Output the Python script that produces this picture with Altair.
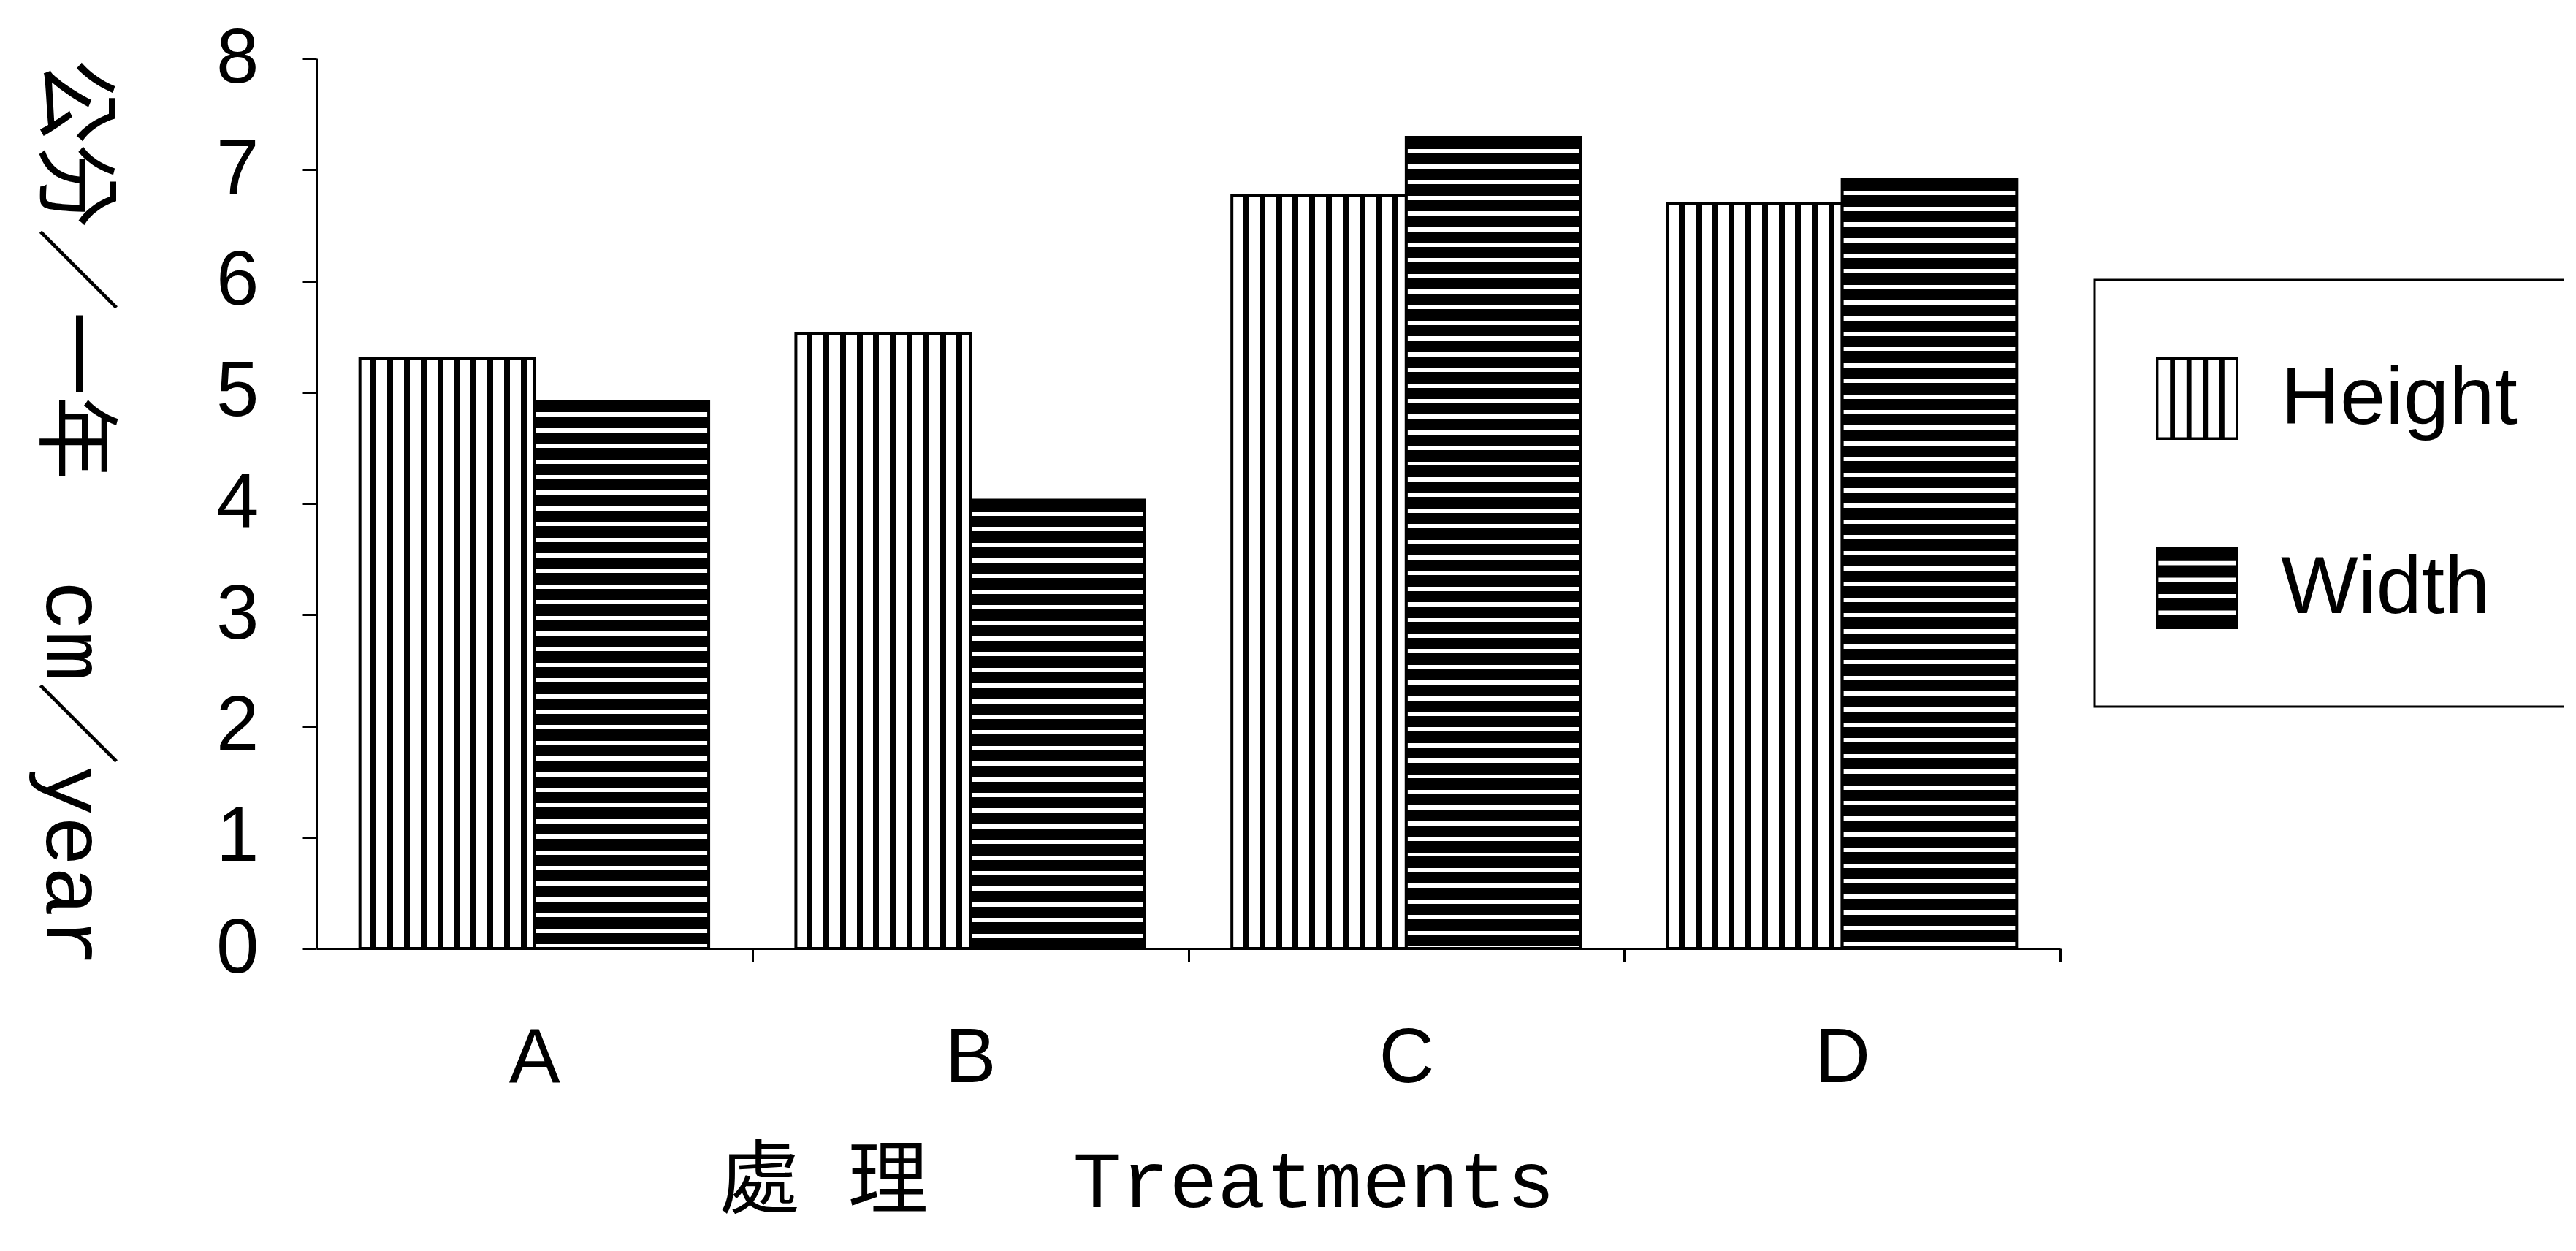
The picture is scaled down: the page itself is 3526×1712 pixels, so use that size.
import altair as alt
import pandas as pd

# ---- data ----
treatments = ["A", "B", "C", "D"]
series = ["Height", "Width"]
height_vals = [5.30, 5.53, 6.77, 6.70]
width_vals = [4.92, 4.03, 7.29, 6.91]
y_ticks = [0, 1, 2, 3, 4, 5, 6, 7, 8]

rows = []
for t, h, w in zip(treatments, height_vals, width_vals):
    rows.append({"Treatment": t, "Series": "Height", "Value": h})
    rows.append({"Treatment": t, "Series": "Width", "Value": w})
df = pd.DataFrame(rows)

# ---- layout / style ----
PLOT_W, PLOT_H = 2387, 1218
Y_MAX = 8
STEP = PLOT_W / len(treatments)
BAR_W = STEP * 0.8 / 2
SANS = "Liberation Sans, Arial, sans-serif"
MONO = "'Liberation Mono', 'Noto Sans CJK TC', monospace"


def stripe_stops(length, pitch, dark, dark_first):
    stops = []
    f = pitch / length
    pos = 0.0
    c1, c2 = ("black", "white") if dark_first else ("white", "black")
    first = dark if dark_first else 1 - dark
    while pos < 1 - 1e-9:
        mid = min(pos + first * f, 1.0)
        end = min(pos + f, 1.0)
        stops += [
            {"offset": round(pos, 5), "color": c1},
            {"offset": round(mid, 5), "color": c1},
            {"offset": round(mid, 5), "color": c2},
            {"offset": round(end, 5), "color": c2},
        ]
        pos = end
    return stops


def vstripes(length, pitch, dark, dark_first=False):
    return {"gradient": "linear", "x1": 0, "y1": 0, "x2": 1, "y2": 0,
            "stops": stripe_stops(length, pitch, dark, dark_first)}


def hstripes(length, pitch, dark, dark_first=True):
    return {"gradient": "linear", "x1": 0, "y1": 0, "x2": 0, "y2": 1,
            "stops": stripe_stops(length, pitch, dark, dark_first)}


height_grad = vstripes(BAR_W, 22.8, 0.35)
width_grads = {t: hstripes(v * PLOT_H / Y_MAX, 21.4, 0.72) for t, v in zip(treatments, width_vals)}

conds = [{"test": "datum.Series === 'Height'", "value": height_grad}]
for t in treatments[:-1]:
    conds.append({"test": f"datum.Treatment === '{t}'", "value": width_grads[t]})
fill = alt.FillValue(value=width_grads[treatments[-1]], condition=conds)


# ---- legend swatches as custom symbol paths (unit square -1..1) ----
def rect(x0, y0, x1, y1, reverse=False):
    if reverse:
        return f"M{x0:.3f},{y0:.3f}L{x0:.3f},{y1:.3f}L{x1:.3f},{y1:.3f}L{x1:.3f},{y0:.3f}Z"
    return f"M{x0:.3f},{y0:.3f}L{x1:.3f},{y0:.3f}L{x1:.3f},{y1:.3f}L{x0:.3f},{y1:.3f}Z"


B = 0.06
frame = rect(-1, -1, 1, 1) + rect(-1 + B, -1 + B, 1 - B, 1 - B, reverse=True)
vert_path = frame + "".join(rect(-1 + k * 0.4 - 0.06, -1 + B, -1 + k * 0.4 + 0.06, 1 - B) for k in range(1, 5))
white_lines = [-1 + k * 0.4 for k in range(1, 5)]
edges = [-1 + B] + [v for w in white_lines for v in (w - 0.05, w + 0.05)] + [1 - B]
horiz_path = frame + "".join(rect(-1 + B, edges[i], 1 - B, edges[i + 1]) for i in range(0, len(edges), 2))

SYM = 113
legend = alt.Legend(
    title=None,
    orient="none",
    direction="vertical",
    legendX=2434,
    legendY=303,
    padding=106,
    rowPadding=146,
    symbolOffset=-22,
    symbolSize=SYM * SYM,
    symbolFillColor="black",
    symbolStrokeColor="black",
    symbolStrokeWidth=0,
    symbolOpacity=1,
    labelFont=SANS,
    labelFontSize=112,
    labelOffset=58,
    labelLimit=900,
    labelColor="black",
    strokeColor="black",
    fillColor="white",
)

x_enc = alt.X(
    "Treatment:N",
    sort=treatments,
    scale=alt.Scale(paddingInner=0.2, paddingOuter=0.1),
    axis=alt.Axis(
        title="處\u00a0理\u00a0\u00a0\u00a0Treatments",
        titleFont=MONO,
        titleFontSize=110,
        titleFontWeight="normal",
        titleColor="black",
        titleX=1123,
        titleY=320,
        titleAlign="center",
        titleBaseline="middle",
        labelAngle=0,
        labelFont=SANS,
        labelFontSize=105,
        labelColor="black",
        labelPadding=81,
        tickOffset=STEP / 2,
        labelOffset=-STEP / 2,
        tickSize=18,
        tickWidth=3,
        tickColor="black",
        domainColor="black",
        domainWidth=3,
        grid=False,
    ),
)
xo_enc = alt.XOffset("Series:N", sort=series, scale=alt.Scale(paddingInner=0, paddingOuter=0))
y_enc = alt.Y(
    "Value:Q",
    scale=alt.Scale(domain=[0, Y_MAX], nice=False),
    axis=alt.Axis(
        values=y_ticks,
        format="d",
        title="公分／一年\u00a0\u00a0cm／year",
        titleFont=MONO,
        titleFontSize=115,
        titleFontWeight="normal",
        titleColor="black",
        titleAngle=90,
        titleX=-335,
        titleY=622,
        titleAlign="center",
        titleBaseline="middle",
        labelFont=SANS,
        labelFontSize=105,
        labelColor="black",
        labelPadding=60,
        tickSize=19,
        tickWidth=3,
        tickColor="black",
        domainColor="black",
        domainWidth=3,
        grid=False,
    ),
)

bars = alt.Chart(df).mark_bar(stroke="black", strokeWidth=4).encode(
    x=x_enc, xOffset=xo_enc, y=y_enc, fill=fill,
)

keys = alt.Chart(df).mark_point(size=0, filled=True, color="black").encode(
    x=x_enc, xOffset=xo_enc, y=y_enc,
    shape=alt.Shape("Series:N", sort=series,
                    scale=alt.Scale(domain=series, range=[vert_path, horiz_path]),
                    legend=legend),
)

chart = alt.layer(bars, keys).properties(
    width=PLOT_W,
    height=PLOT_H,
    autosize=alt.AutoSizeParams(type="none"),
    padding={"left": 425, "top": 72, "right": 690, "bottom": 400},
    background="white",
).configure_view(stroke=None).configure_legend(strokeWidth=3)

chart.save("out.html", embed_options={"renderer": "svg", "actions": False})
